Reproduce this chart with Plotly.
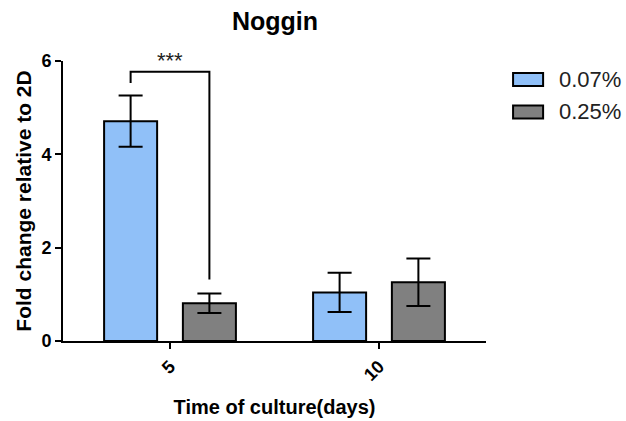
import plotly.graph_objects as go

# ---- data ----
days = ["5", "10"]
series_names = ["0.07%", "0.25%"]
mean_007 = [4.71, 1.04]
err_007 = [0.55, 0.42]
mean_025 = [0.81, 1.26]
err_025 = [0.21, 0.51]
y_ticks = [0, 2, 4, 6]
sig_label = "***"

colors = ["#90C0F8", "#808080"]
xpos = list(range(len(days)))
bargap = 0.246
bargroupgap = 0.327
FONT = "Liberation Sans"

fig = go.Figure()
for name, means, errs, col in [(series_names[0], mean_007, err_007, colors[0]),
                               (series_names[1], mean_025, err_025, colors[1])]:
    fig.add_trace(go.Bar(
        x=xpos, y=means, name=name,
        marker=dict(color=col, line=dict(color="black", width=2)),
        error_y=dict(type="data", array=errs, visible=True, color="black",
                     thickness=2, width=12),
        showlegend=False,
    ))

# significance bracket between the two bars of day 5
off = (1 - bargap) / 4
xl, xr = xpos[0] - off, xpos[0] + off
top = 5.77
left_bottom = mean_007[0] + err_007[0] + 0.27
right_bottom = mean_025[0] + err_025[0] + 0.3
fig.add_shape(type="path", xref="x", yref="y",
              path=f"M {xl} {left_bottom} L {xl} {top} L {xr} {top} L {xr} {right_bottom}",
              line=dict(color="black", width=2))
fig.add_annotation(x=xpos[0], y=top, xref="x", yref="y", text=sig_label,
                   showarrow=False, yanchor="bottom", yshift=-3,
                   font=dict(family=FONT, size=22, color="#222"))

# custom legend
leg_y = [0.934, 0.818]
for name, col, yc in zip(series_names, colors, leg_y):
    fig.add_shape(type="rect", xref="paper", yref="paper",
                  x0=1.064, x1=1.135, y0=yc - 0.023, y1=yc + 0.023,
                  fillcolor=col, line=dict(color="black", width=2))
    fig.add_annotation(x=1.168, y=yc, xref="paper", yref="paper", text=name,
                       showarrow=False, xanchor="left", yanchor="middle",
                       font=dict(family=FONT, size=22, color="#222"))

fig.update_layout(
    width=626, height=421,
    margin=dict(l=63, r=140, t=61, b=80),
    paper_bgcolor="white", plot_bgcolor="white",
    barmode="group", bargap=bargap, bargroupgap=bargroupgap,
    title=dict(text="<b>Noggin</b>", x=275 / 626, xanchor="center",
               y=1 - 21.5 / 421, yanchor="middle",
               font=dict(family=FONT, size=25, color="black")),
    font=dict(family=FONT, color="black"),
)
fig.update_xaxes(
    tickvals=xpos, ticktext=[f"<b>{d}</b>" for d in days],
    range=[-0.512, 1.512], tickangle=-45, automargin=False,
    showline=True, linecolor="black", linewidth=2,
    ticks="outside", ticklen=6, tickwidth=2, tickcolor="black",
    showgrid=False, zeroline=False,
    tickfont=dict(family=FONT, size=18, color="black"),
    title=dict(text="<b>Time of culture(days)</b>", standoff=16,
               font=dict(family=FONT, size=20, color="black")),
)
fig.update_yaxes(
    range=[0, 6], tickvals=y_ticks, ticktext=[f"<b>{v}</b>" for v in y_ticks],
    automargin=False,
    showline=True, linecolor="black", linewidth=2,
    ticks="outside", ticklen=6, tickwidth=2, tickcolor="black",
    showgrid=False, zeroline=False,
    tickfont=dict(family=FONT, size=18, color="black"),
    title=dict(text="<b>Fold change relative to 2D</b>", standoff=4,
               font=dict(family=FONT, size=21, color="black")),
)

fig.write_html("out.html",
               config={"displayModeBar": False},
               post_script="document.body.style.margin='0';document.body.style.overflow='hidden';")
